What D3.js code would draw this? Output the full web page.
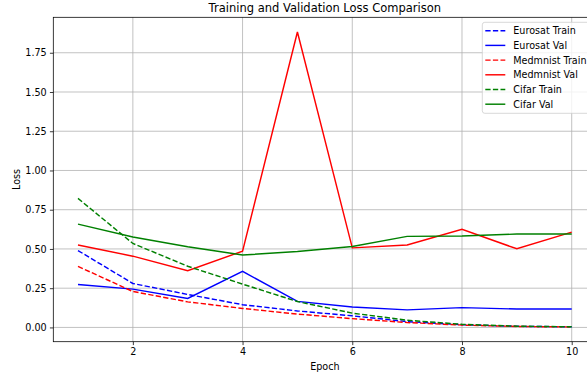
<!DOCTYPE html>
<html>
<head>
<meta charset="utf-8">
<script src="https://d3js.org/d3.v7.min.js"></script>
<style>
  body { margin: 0; background: #fff; }
  svg { display: block; overflow: hidden; }
  text { font-family: "DejaVu Sans", sans-serif; fill: #000; }
</style>
</head>
<body>
<div id="chart"></div>
<script>
// values
let epochs = [1, 2, 3, 4, 5, 6, 7, 8, 9, 10];
let eurosatTrain = [0.490, 0.280, 0.210, 0.145, 0.105, 0.074, 0.037, 0.017, 0.007, 0.004];
let eurosatVal = [0.274, 0.244, 0.185, 0.357, 0.166, 0.130, 0.112, 0.126, 0.117, 0.117];
let medmnistTrain = [0.389, 0.229, 0.163, 0.121, 0.085, 0.056, 0.031, 0.015, 0.006, 0.003];
let medmnistVal = [0.525, 0.454, 0.361, 0.486, 1.882, 0.507, 0.525, 0.625, 0.501, 0.607];
let cifarTrain = [0.822, 0.535, 0.390, 0.276, 0.165, 0.091, 0.046, 0.020, 0.008, 0.004];
let cifarVal = [0.658, 0.576, 0.514, 0.461, 0.484, 0.516, 0.580, 0.582, 0.595, 0.595];

let xTicks = [2, 4, 6, 8, 10];
let yTicks = [0, 0.25, 0.5, 0.75, 1.0, 1.25, 1.5, 1.75];

let series = [
    { name: "Eurosat Train", values: eurosatTrain, color: "blue", dash: true },
    { name: "Eurosat Val", values: eurosatVal, color: "blue", dash: false },
    { name: "Medmnist Train", values: medmnistTrain, color: "red", dash: true },
    { name: "Medmnist Val", values: medmnistVal, color: "red", dash: false },
    { name: "Cifar Train", values: cifarTrain, color: "green", dash: true },
    { name: "Cifar Val", values: cifarVal, color: "green", dash: false }
];

var W = 587, H = 378;
// plot box (right edge runs past the picture, as in the reference)
var pL = 53.3, pT = 17.3, pR = 596.4, pB = 341.7;
var fs = 9.6, lw = 1.44, dash = "5.3,2.3";

var svg = d3.select("#chart")
    .append("svg")
    .attr("width", W)
    .attr("height", H);

// matplotlib style 5% margins
let allVals = series.flatMap(s => s.values);
let ymin = d3.min(allVals), ymax = d3.max(allVals);
let ypad = (ymax - ymin) * 0.05;

var x = d3.scaleLinear().domain([1 - 0.45, 10 + 0.45]).range([pL, pR]);
var y = d3.scaleLinear().domain([ymin - ypad, ymax + ypad]).range([pB, pT]);

// grid
let g = svg.append("g");
g.selectAll(".gx")
    .data(xTicks)
    .enter().append("line")
    .attr("x1", d => x(d)).attr("x2", d => x(d))
    .attr("y1", pT).attr("y2", pB)
    .attr("stroke", "#b0b0b0")
    .attr("stroke-width", 0.77);
g.selectAll(".gy")
    .data(yTicks)
    .enter().append("line")
    .attr("x1", pL).attr("x2", pR)
    .attr("y1", d => y(d)).attr("y2", d => y(d))
    .attr("stroke", "#b0b0b0")
    .attr("stroke-width", 0.77);

// lines
var lineFunc = d3.line()
    .x((d, i) => x(epochs[i]))
    .y(d => y(d))
    .curve(d3.curveLinear);

series.forEach(s => {
    svg.append("path")
        .attr("d", lineFunc(s.values))
        .attr("fill", "none")
        .attr("stroke", s.color)
        .attr("stroke-width", lw)
        .attr("stroke-dasharray", s.dash ? dash : null);
});

// axes
let xAxis = svg.append("g")
    .attr("transform", "translate(0," + pB + ")")
    .call(d3.axisBottom(x).tickValues(xTicks).tickSize(3.4).tickPadding(3).tickFormat(d3.format("d")));
let yAxis = svg.append("g")
    .attr("transform", "translate(" + pL + ",0)")
    .call(d3.axisLeft(y).tickValues(yTicks).tickSize(3.4).tickPadding(3.2).tickFormat(d3.format(".2f")));

[xAxis, yAxis].forEach(a => {
    a.select(".domain").remove();
    a.selectAll("line").attr("stroke", "#000").attr("stroke-width", 0.77);
    a.selectAll("text").style("font-size", fs + "px").attr("fill", "#000");
});

// spines
svg.append("rect")
    .attr("x", pL).attr("y", pT)
    .attr("width", pR - pL).attr("height", pB - pT)
    .attr("fill", "none")
    .attr("stroke", "#000")
    .attr("stroke-width", 0.77);

// labels
svg.append("text")
    .attr("x", (pL + pR) / 2).attr("y", 11.5)
    .attr("text-anchor", "middle")
    .style("font-size", "11.5px")
    .text("Training and Validation Loss Comparison");
svg.append("text")
    .attr("x", (pL + pR) / 2).attr("y", 370)
    .attr("text-anchor", "middle")
    .style("font-size", fs + "px")
    .text("Epoch");
svg.append("text")
    .attr("transform", "translate(20," + (pT + pB) / 2 + ") rotate(-90)")
    .attr("text-anchor", "middle")
    .style("font-size", fs + "px")
    .text("Loss");

// legend
let lg = svg.append("g").attr("transform", "translate(482.3,22.3)");
lg.append("rect")
    .attr("width", 120).attr("height", 91)
    .attr("rx", 2.5)
    .attr("fill", "#fff").attr("fill-opacity", 0.8)
    .attr("stroke", "#cccccc")
    .attr("stroke-width", 0.77);

let item = lg.selectAll(".item")
    .data(series)
    .enter().append("g")
    .attr("transform", (d, i) => "translate(0," + (8.4 + i * 14.7) + ")");
item.append("line")
    .attr("x1", 3).attr("x2", 23)
    .attr("stroke", d => d.color)
    .attr("stroke-width", lw)
    .attr("stroke-dasharray", d => d.dash ? dash : null);
item.append("text")
    .attr("x", 31).attr("y", 3.4)
    .style("font-size", fs + "px")
    .text(d => d.name);
</script>
</body>
</html>
